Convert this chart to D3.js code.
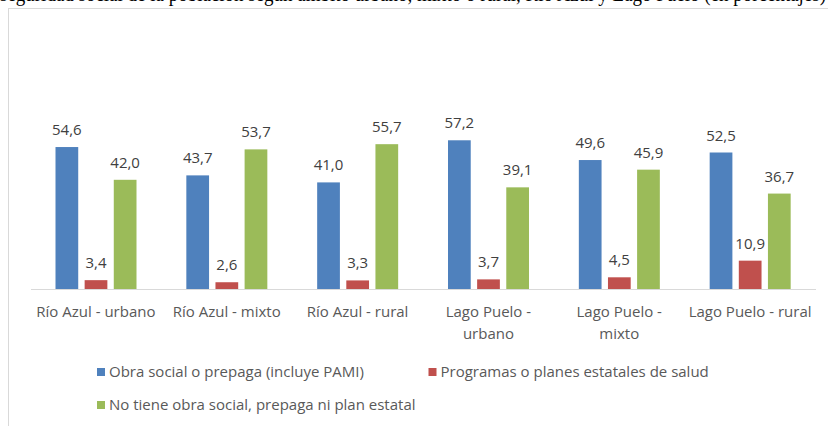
<!DOCTYPE html>
<html>
<head>
<meta charset="utf-8">
<script src="https://cdn.jsdelivr.net/npm/d3@7"></script>
<style>
  body { margin: 0; background: #fff; }
  svg { display: block; }
</style>
</head>
<body>
<div id="wrapper"></div>
<script>
// data
const categories = [
  "Río Azul - urbano",
  "Río Azul - mixto",
  "Río Azul - rural",
  "Lago Puelo - urbano",
  "Lago Puelo - mixto",
  "Lago Puelo - rural"
];
// how each category label wraps
const categoryLines = [
  ["Río Azul - urbano"],
  ["Río Azul - mixto"],
  ["Río Azul - rural"],
  ["Lago Puelo -", "urbano"],
  ["Lago Puelo -", "mixto"],
  ["Lago Puelo - rural"]
];
const seriesNames = [
  "Obra social o prepaga (incluye PAMI)",
  "Programas o planes estatales de salud",
  "No tiene obra social, prepaga ni plan estatal"
];
const obraSocial = [54.6, 43.7, 41.0, 57.2, 49.6, 52.5];
const programas = [3.4, 2.6, 3.3, 3.7, 4.5, 10.9];
const noTiene = [42.0, 53.7, 55.7, 39.1, 45.9, 36.7];
const seriesValues = [obraSocial, programas, noTiene];
const colors = ["#4f81bd", "#c0504d", "#9bbb59"];
const caption = "seguridad social de la población según ámbito urbano, mixto o rural, Río Azul y Lago Puelo (en porcentajes)";

// dimensions
const width = 828, height = 426;
const baseY = 289;
const labelFont = "Open Sans, sans-serif";
const labelSize = 15;

const svg = d3.select("#wrapper").append("svg")
  .attr("width", width)
  .attr("height", height);

// cut-off caption line above the chart (only its lower part shows)
svg.append("text")
  .attr("x", 0)
  .attr("y", 1)
  .attr("textLength", 826)
  .attr("lengthAdjust", "spacingAndGlyphs")
  .attr("font-family", "Liberation Serif, serif")
  .attr("font-size", 20)
  .attr("fill", "#000")
  .text(caption);

// chart frame
svg.append("rect")
  .attr("x", 8.5).attr("y", 8.5)
  .attr("width", 840).attr("height", 440)
  .attr("fill", "#fff")
  .attr("stroke", "#d9d9d9");

// scales
const x0 = d3.scaleBand().domain(categories).range([30.5, 815.5]);
const x1 = d3.scaleBand().domain(d3.range(3)).range([25, 106]).paddingInner(0.22);
const y = d3.scaleLinear().domain([0, 60]).range([baseY, baseY - 156]);

const table = categories.map((c, i) => ({
  cat: c,
  values: seriesValues.map((s, k) => ({ k, v: s[i] }))
}));

const groups = svg.append("g").selectAll("g")
  .data(table)
  .join("g")
  .attr("transform", d => `translate(${x0(d.cat)},0)`);

groups.selectAll("rect")
  .data(d => d.values)
  .join("rect")
  .attr("x", d => x1(d.k))
  .attr("width", x1.bandwidth())
  .attr("y", d => y(d.v))
  .attr("height", d => y(0) - y(d.v))
  .attr("fill", d => colors[d.k]);

groups.selectAll("text")
  .data(d => d.values)
  .join("text")
  .attr("x", d => x1(d.k) + x1.bandwidth() / 2)
  .attr("y", d => y(d.v) - 12)
  .attr("text-anchor", "middle")
  .attr("font-family", labelFont)
  .attr("font-size", labelSize)
  .attr("fill", "#404040")
  .text(d => d3.format(".1f")(d.v).replace(".", ","));

// baseline axis
const xAxis = svg.append("g")
  .attr("transform", `translate(0,${baseY})`)
  .call(d3.axisBottom(x0).tickSize(0).tickFormat(""));
xAxis.select(".domain").attr("stroke", "#d9d9d9");

const labels = svg.append("g").selectAll("text")
  .data(categories)
  .join("text")
  .attr("x", d => x0(d) + x0.bandwidth() / 2)
  .attr("y", 317)
  .attr("text-anchor", "middle")
  .attr("font-family", labelFont)
  .attr("font-size", labelSize)
  .attr("fill", "#595959");

labels.selectAll("tspan")
  .data((d, i) => categoryLines[i])
  .join("tspan")
  .attr("x", function () { return this.parentNode.getAttribute("x"); })
  .attr("dy", (d, i) => i === 0 ? 0 : 21.5)
  .text(d => d);

// legend
const legendPos = [[97, 372], [428.5, 372], [97, 405]];
const legend = svg.append("g").selectAll("g")
  .data(seriesNames)
  .join("g")
  .attr("transform", (d, i) => `translate(${legendPos[i][0]},${legendPos[i][1]})`);

legend.append("rect")
  .attr("x", 0).attr("y", -4)
  .attr("width", 8).attr("height", 8)
  .attr("fill", (d, i) => colors[i]);

legend.append("text")
  .attr("x", 12)
  .attr("y", 5)
  .attr("font-family", labelFont)
  .attr("font-size", labelSize)
  .attr("fill", "#595959")
  .text(d => d);
</script>
</body>
</html>
